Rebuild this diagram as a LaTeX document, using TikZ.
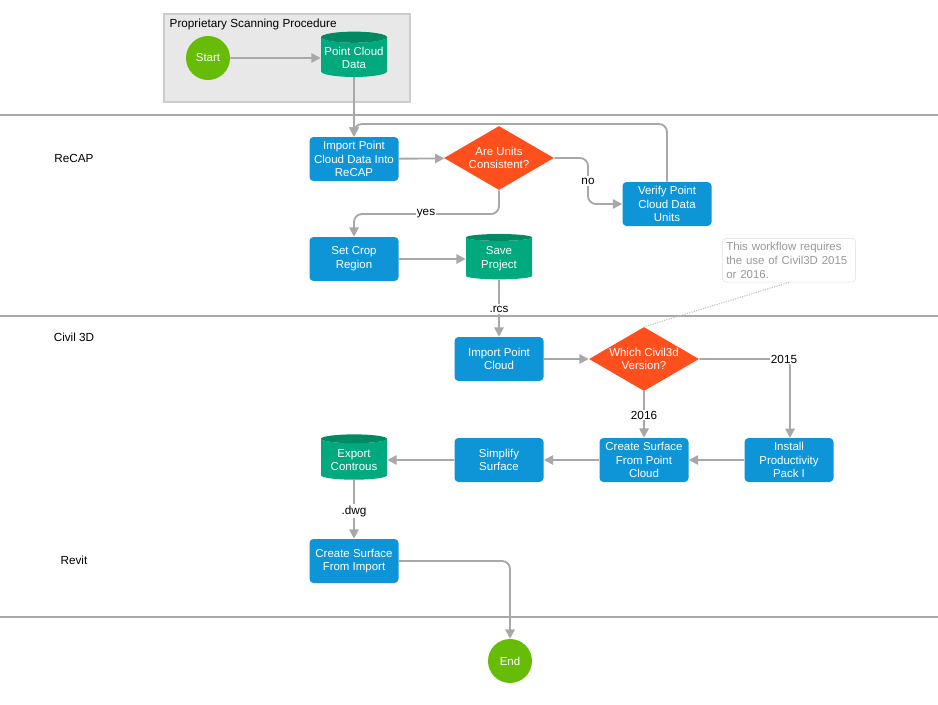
\documentclass[tikz,border=0pt]{standalone}
\usepackage{fontspec}
\setmainfont{Liberation Sans}
\usetikzlibrary{shapes.geometric,arrows.meta}
\definecolor{bl}{HTML}{0E95D8}
\definecolor{orng}{HTML}{FF4F1C}
\definecolor{grn}{HTML}{00A97E}
\definecolor{dgrn}{HTML}{008A63}
\definecolor{lgrn}{HTML}{66BC06}
\definecolor{ln}{HTML}{A8A8A8}
\begin{document}
\begin{tikzpicture}[x=0.75pt,y=-0.75pt,
  txt/.style={font=\fontsize{8.6}{10.3}\selectfont, text=white, align=center},
  box/.style={txt, rectangle, rounded corners=3pt, fill=bl, minimum width=66.75pt, minimum height=33pt, inner sep=1pt},
  dia/.style={txt, diamond, fill=orng, minimum width=82.5pt, minimum height=48pt, inner sep=0pt, aspect=1.7},
  cyl/.style={txt, cylinder, shape border rotate=90, aspect=0.18, cylinder uses custom fill, cylinder body fill=grn, cylinder end fill=dgrn, minimum width=49.5pt, minimum height=34pt, inner sep=1pt},
  circ/.style={txt, circle, fill=lgrn, minimum size=33pt, inner sep=0pt},
  con/.style={draw=ln, line width=1.4pt, rounded corners=6pt, -{Triangle[length=7pt,width=7pt]}},
  lab/.style={font=\fontsize{8.8}{10}\selectfont, text=black, fill=white, inner sep=1pt},
  lane/.style={font=\fontsize{8.8}{10}\selectfont, text=black}]
\useasboundingbox (0,0) rectangle (938,704);
\fill[white] (0,0) rectangle (938,704);
% lanes
\foreach \y in {115,316,617} \draw[draw=ln, line width=0.8pt] (0,\y) -- (938,\y);
\node[lane] (l1) at (74,158) {ReCAP};
\node[lane] (l2) at (74,337) {Civil 3D};
\node[lane] (l3) at (74,560) {Revit};
% group
\draw[fill=black!9, draw=black!20, line width=1.2pt] (164,14) rectangle (410,102);
\node[lane, anchor=west] (gt) at (165,24) {Proprietary Scanning Procedure};
% nodes
\node[circ] (start) at (208,58) {Start};
\node[cyl] (pcd) at (354,58) {Point Cloud\\Data};
\node[box] (imp) at (354,159) {Import Point\\Cloud Data Into\\ReCAP};
\node[dia] (d1) at (499,158) {Are Units\\Consistent?};
\node[box] (ver) at (667,204) {Verify Point\\Cloud Data\\Units};
\node[box] (crop) at (354,259) {Set Crop\\Region};
\node[cyl] (save) at (499,259) {Save\\Project};
\node[box] (ipc) at (499,359) {Import Point\\Cloud};
\node[dia] (d2) at (644,359) {Which Civil3d\\Version?};
\node[box] (inst) at (789,460) {Install\\Productivity\\Pack I};
\node[box] (cs) at (644,460) {Create Surface\\From Point\\Cloud};
\node[box] (simp) at (499,460) {Simplify\\Surface};
\node[cyl] (exp) at (354,460) {Export\\Controus};
\node[box] (csi) at (354,561) {Create Surface\\From Import};
\node[circ] (end) at (510,661) {End};
\node[font=\fontsize{8.6}{10.3}\selectfont, text=black!40, align=left, draw=black!12, rounded corners=3pt, fill=white, text width=94pt, inner sep=3pt, anchor=north west] (note) at (722,238) {This workflow requires the use of Civil3D 2015 or 2016.};
% connectors
\draw[con] (start) -- (pcd);
\draw[con] (pcd.south) -- (imp.north);
\draw[con] (imp) -- (d1);
\draw[con] (d1.east) -- (588,158) -- (588,204) -- (ver.west);
\node[lab] (no) at (588,181) {no};
\draw[con] (ver.north) -- (667,124) -- (354,124) -- (imp.north);
\draw[con] (d1.south) -- (499,214) -- (354,214) -- (crop.north);
\node[lab] (yes) at (426,214) {yes};
\draw[con] (crop) -- (save);
\draw[con] (save.south) -- (ipc.north);
\node[lab] (rcs) at (499,309) {.rcs};
\draw[con] (ipc) -- (d2);
\draw[con] (d2.east) -- (790,359) -- (790,438);
\node[lab] (y15) at (784,359) {2015};
\draw[con] (d2.south) -- (cs.north);
\node[lab] (y16) at (644,415) {2016};
\draw[con] (inst) -- (cs);
\draw[con] (cs) -- (simp);
\draw[con] (simp) -- (exp);
\draw[con] (exp.south) -- (csi.north);
\node[lab] (dwg) at (354,511) {.dwg};
\draw[con] (csi.east) -- (510,561) -- (end.north);
\draw[draw=black!25, densely dotted, line width=0.8pt] (note.south) -- (d2.north);
\end{tikzpicture}
\end{document}
